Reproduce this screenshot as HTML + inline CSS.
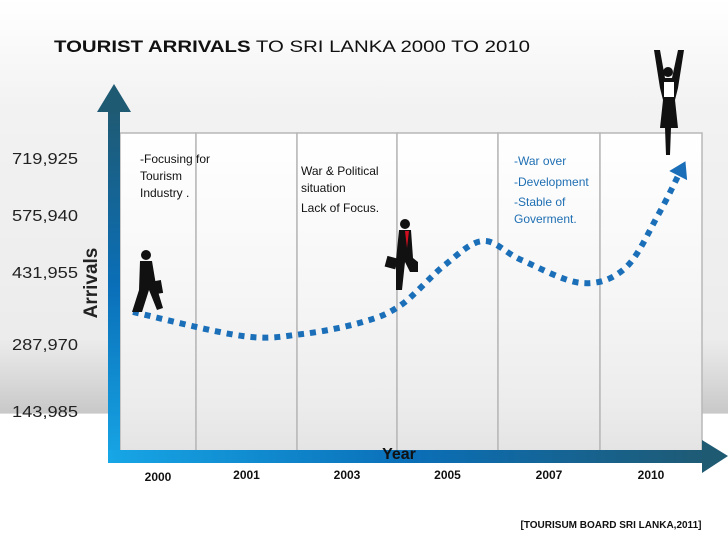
<!DOCTYPE html>
<html><head><meta charset="utf-8"><style>
html,body{margin:0;padding:0;width:728px;height:546px;overflow:hidden;background:#fff;font-family:"Liberation Sans",sans-serif}
</style></head><body>
<svg width="728" height="546" viewBox="0 0 728 546" xmlns="http://www.w3.org/2000/svg">
<defs>
<linearGradient id="bg" x1="0" y1="0" x2="0" y2="1">
<stop offset="0" stop-color="#ffffff"/><stop offset="0.2" stop-color="#f2f2f2"/><stop offset="0.62" stop-color="#ececec"/><stop offset="0.7" stop-color="#d8d8d8"/><stop offset="0.757" stop-color="#c8c8c8"/><stop offset="0.758" stop-color="#ffffff"/><stop offset="1" stop-color="#ffffff"/>
</linearGradient>
<linearGradient id="panel" x1="0" y1="0" x2="0" y2="1">
<stop offset="0" stop-color="#ffffff"/><stop offset="0.5" stop-color="#f6f6f6"/><stop offset="0.85" stop-color="#ececec"/><stop offset="1" stop-color="#e4e4e4"/>
</linearGradient>
<linearGradient id="vax" x1="0" y1="0" x2="0" y2="1">
<stop offset="0" stop-color="#1f5a73"/><stop offset="0.5" stop-color="#0a6fb8"/><stop offset="1" stop-color="#17a6e6"/>
</linearGradient>
<linearGradient id="hax" x1="0" y1="0" x2="1" y2="0">
<stop offset="0" stop-color="#17a6e6"/><stop offset="0.5" stop-color="#0a6fb8"/><stop offset="1" stop-color="#1f5a73"/>
</linearGradient>
</defs>
<rect x="0" y="0" width="728" height="546" fill="url(#bg)"/>
<text x="54" y="52" font-size="17" fill="#111" textLength="476" lengthAdjust="spacingAndGlyphs" font-family="Liberation Sans, sans-serif"><tspan font-weight="bold">TOURIST ARRIVALS</tspan> TO SRI  LANKA 2000 TO 2010</text>

<g id="panels"></g>

<g font-size="12" fill="#111">
<text x="140" y="163">-Focusing  for</text><text x="140" y="180">Tourism</text><text x="140" y="197">Industry .</text></g>
<g font-size="12" fill="#111">
<text x="301" y="175">War &amp; Political</text><text x="301" y="192">situation</text><text x="301" y="212">Lack of Focus.</text></g>
<g font-size="12" fill="#1f6fb3">
<text x="514" y="165">-War over</text><text x="514" y="186">-Development</text><text x="514" y="206">-Stable of</text><text x="514" y="223">Goverment.</text></g>

<g id="ylabels" font-size="16" fill="#222"></g>
<text x="97" y="283" font-size="19" font-weight="bold" fill="#222" transform="rotate(-90 97 283)" text-anchor="middle">Arrivals</text>

<rect x="108" y="110" width="12" height="353" fill="url(#vax)"/>
<polygon points="114,84 97,112 131,112" fill="#1f5a73"/>
<rect x="108" y="450" width="602" height="13" fill="url(#hax)"/>
<polygon points="728,456 702,440 702,473" fill="#1f5a73"/>
<text x="399" y="459" font-size="16" font-weight="bold" fill="#111" text-anchor="middle">Year</text>
<g id="xlabels" font-size="12" font-weight="bold" fill="#111" text-anchor="middle"></g>
<text x="611" y="528" font-size="10" font-weight="bold" fill="#111" text-anchor="middle">[TOURISUM BOARD SRI LANKA,2011]</text>

<path id="trend" fill="none" stroke="#1a6fb8" stroke-width="6" stroke-dasharray="6 6"/>
<polygon id="trendArrow" fill="#1a6fb8"/>

<g fill="#111">
<circle cx="146" cy="255" r="5"/><path d="M140,261 L152,261 L156,285 L163,308 L157,310 L149,290 L142,312 L132,312 L139,290 Z"/><rect x="150" y="281" width="12" height="13" transform="rotate(-10 156 287)"/></g>
<g fill="#111">
<circle cx="405" cy="224" r="5"/><path d="M399,230 L411,230 L413,258 L418,262 L418,272 L410,272 L405,262 L402,290 L396,290 L396,260 Z"/><path d="M405,231 L409,231 L407,248 Z" fill="#d01020"/><rect x="386" y="257" width="11" height="11" transform="rotate(15 391 262)"/></g>
<g fill="#111">
<circle cx="668" cy="72" r="5"/><path d="M654,50 L660,50 L665,78 L672,78 L678,50 L684,50 L678,88 L675,100 L678,128 L671,128 L670,155 L666,155 L665,128 L660,128 L663,100 L660,88 Z"/><rect x="664" y="82" width="10" height="15" fill="#fff"/></g>
</svg>
<script>
const yTickValues=[719925,575940,431955,287970,143985];
const yTickLabels=["719,925","575,940","431,955","287,970","143,985"];
const yTickPos=[158,215,272,344,411];
const xCategories=["2000","2001","2003","2005","2007","2010"];
const trendYears=[2000,2002,2003.1,2004.2,2004.9,2005.7,2006.4,2007.1,2008.2,2009,2009.6,2010];
const trendValues=[369400,314700,319300,346600,385300,476400,531000,487800,435400,469500,590200,688100];
const NS="http://www.w3.org/2000/svg";
function yScale(v){return 411-(v-143985)*(411-158)/(719925-143985);}
function xScale(yr){return 133+(yr-2000)*(680-133)/10;}
const edges=[120,196,297,397,498,600,702];
const panels=document.getElementById('panels');
for(let i=0;i<xCategories.length;i++){
 const r=document.createElementNS(NS,'rect');
 r.setAttribute('x',edges[i]);r.setAttribute('y',133);r.setAttribute('width',edges[i+1]-edges[i]);r.setAttribute('height',319);
 r.setAttribute('fill','url(#panel)');r.setAttribute('stroke','#b8b8b8');r.setAttribute('stroke-width','1.5');
 
 
 panels.appendChild(r);
 const t=document.createElementNS(NS,'text');
 t.setAttribute('x',(edges[i]+edges[i+1])/2);t.setAttribute('y',i==0?481:479);t.textContent=xCategories[i];
 
 
 document.getElementById('xlabels').appendChild(t);
}
const yl=document.getElementById('ylabels');
yTickLabels.forEach((s,i)=>{
 const t=document.createElementNS(NS,'text');
 t.setAttribute('x',12);t.setAttribute('y',yTickPos[i]+6);t.textContent=s;
 t.setAttribute('textLength','66');t.setAttribute('lengthAdjust','spacingAndGlyphs');
 
 
 yl.appendChild(t);
});
const pts=trendYears.map((yr,i)=>[xScale(yr),yScale(trendValues[i])]);
let d='M'+pts[0][0]+','+pts[0][1];
for(let i=0;i<pts.length-1;i++){
 const p0=pts[Math.max(0,i-1)],p1=pts[i],p2=pts[i+1],p3=pts[Math.min(pts.length-1,i+2)];
 const c1=[p1[0]+(p2[0]-p0[0])/6,p1[1]+(p2[1]-p0[1])/6],c2=[p2[0]-(p3[0]-p1[0])/6,p2[1]-(p3[1]-p1[1])/6];
 d+=' C'+c1[0]+','+c1[1]+' '+c2[0]+','+c2[1]+' '+p2[0]+','+p2[1];
}
document.getElementById('trend').setAttribute('d',d);
const L=pts[pts.length-1],P=pts[pts.length-2];
const ang=Math.atan2(L[1]-P[1],L[0]-P[0]);
const tip=[L[0]+12*Math.cos(ang),L[1]+12*Math.sin(ang)];
const b1=[L[0]-4*Math.cos(ang)+10*Math.sin(ang),L[1]-4*Math.sin(ang)-10*Math.cos(ang)];
const b2=[L[0]-4*Math.cos(ang)-10*Math.sin(ang),L[1]-4*Math.sin(ang)+10*Math.cos(ang)];
document.getElementById('trendArrow').setAttribute('points',[tip,b1,b2].map(p=>p.join(',')).join(' '));
</script>
</body></html>
